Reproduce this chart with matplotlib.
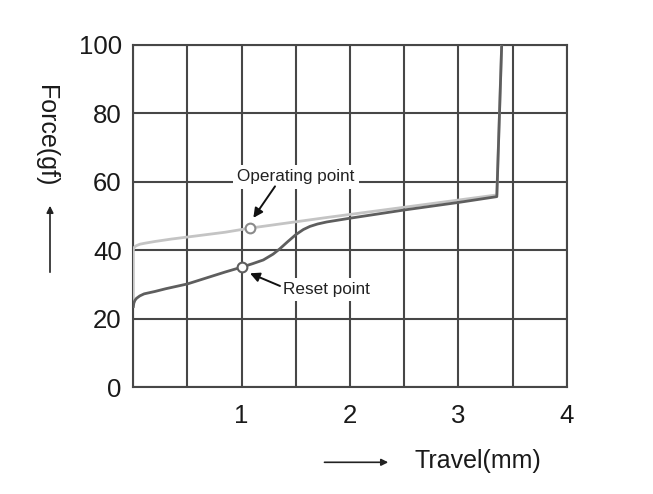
import matplotlib.pyplot as plt
from matplotlib.patches import FancyArrowPatch

plt.rcParams['font.family'] = ['Liberation Sans', 'DejaVu Sans']

# press stroke (operating)
press_x = [0.0, 0.0, 0.005, 0.015, 0.03, 0.06, 0.108, 0.2, 0.35, 0.5, 0.847,
           1.077, 1.785, 2.5, 3.355, 3.40]
press_y = [23.6, 40.1, 40.7, 41.1, 41.4, 41.8, 42.1, 42.6, 43.3, 43.9, 45.3,
           46.5, 49.6, 52.6, 56.2, 100]

# release stroke (reset)
release_x = [0.0, 0.005, 0.015, 0.03, 0.06, 0.1, 0.2, 0.3, 0.5, 0.7, 0.85,
             1.0, 1.1, 1.2, 1.29, 1.35, 1.42, 1.5, 1.57, 1.63, 1.7, 1.785,
             2.0, 2.5, 3.0, 3.355, 3.40]
release_y = [23.6, 24.6, 25.4, 26.0, 26.7, 27.3, 28.0, 28.8, 30.2, 32.2, 33.7,
             35.1, 36.1, 37.2, 38.9, 40.4, 42.4, 44.6, 46.1, 47.0, 47.7, 48.3,
             49.4, 51.8, 54.0, 55.7, 100]

operating_pt = (1.077, 46.5)
reset_pt = (1.0, 35.1)

x_ticks = [0, 0.5, 1, 1.5, 2, 2.5, 3, 3.5, 4]
x_labels = ['', '', '1', '', '2', '', '3', '', '4']
y_ticks = [0, 20, 40, 60, 80, 100]

fig = plt.figure(figsize=(6.53, 4.94), dpi=100)
ax = fig.add_axes([133.3 / 653, 1 - 387.3 / 494, 433.4 / 653, 342.3 / 494])

gc = '#474747'
ax.set_xlim(0, 4)
ax.set_ylim(0, 100)
ax.set_xticks(x_ticks)
ax.set_xticklabels(x_labels)
ax.set_yticks(y_ticks)
ax.grid(True, color=gc, lw=1.5)
ax.set_axisbelow(True)
for s in ax.spines.values():
    s.set_color(gc)
    s.set_linewidth(1.5)
ax.tick_params(length=0, labelsize=18.5, colors='#1a1a1a')
ax.tick_params(axis='y', pad=8.4)
ax.tick_params(axis='x', pad=12)

ax.plot(press_x, press_y, color='#c4c4c4', lw=2, zorder=3)
ax.plot(release_x, release_y, color='#5e5e5e', lw=2, zorder=4)

ax.plot(*operating_pt, 'o', ms=7, mfc='white', mec='#8a8a8a', mew=1.5, zorder=5)
ax.plot(*reset_pt, 'o', ms=7, mfc='white', mec='#5e5e5e', mew=1.5, zorder=5)

box = dict(boxstyle='square,pad=0.25', fc='white', ec='none')
ax.text(1.50, 61.5, 'Operating point', ha='center', va='center', fontsize=12.3,
        color='#222222', bbox=box, zorder=6)
ax.annotate('', xy=(1.108, 49.5), xytext=(1.308, 58.7),
            arrowprops=dict(arrowstyle='-|>', color='#111111', lw=1.4,
                            mutation_scale=14, shrinkA=0, shrinkB=0), zorder=6)
ax.text(1.785, 28.6, 'Reset point', ha='center', va='center', fontsize=12.3,
        color='#222222', bbox=box, zorder=6)
ax.annotate('', xy=(1.077, 33.3), xytext=(1.354, 29.6),
            arrowprops=dict(arrowstyle='-|>', color='#111111', lw=1.4,
                            mutation_scale=14, shrinkA=0, shrinkB=0), zorder=6)

# axis titles with arrows
fig.text(478.3 / 653, 1 - 461 / 494, 'Travel(mm)', ha='center', va='center',
         fontsize=18, color='#1a1a1a')
fig.patches.append(FancyArrowPatch(
    (321.7 / 653, 1 - 462.3 / 494), (391 / 653, 1 - 462.3 / 494),
    transform=fig.transFigure, arrowstyle='-|>', mutation_scale=10,
    color='#222222', lw=1.2))
fig.text(45.8 / 653, 1 - 135.8 / 494, 'Force(gf)', ha='center', va='center',
         rotation=-90, fontsize=18, color='#1a1a1a')
fig.patches.append(FancyArrowPatch(
    (50 / 653, 1 - 275 / 494), (50 / 653, 1 - 203 / 494),
    transform=fig.transFigure, arrowstyle='-|>', mutation_scale=10,
    color='#222222', lw=1.2))

fig.savefig('out.png', dpi=100)
